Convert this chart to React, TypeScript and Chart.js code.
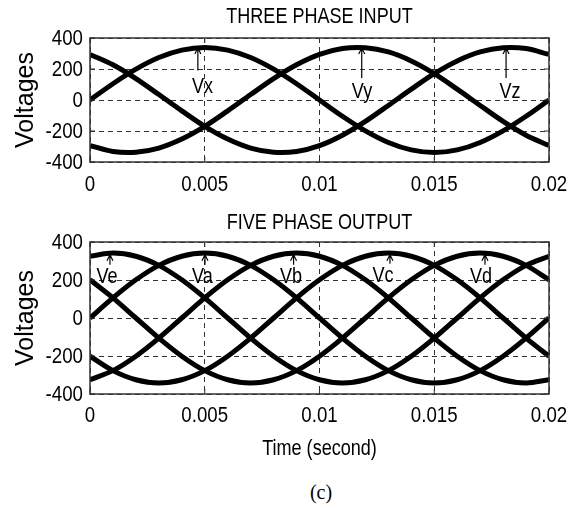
import React, { useEffect, useRef } from 'react';
import { Chart, registerables } from 'chart.js';

Chart.register(...registerables);

// Sample times (s), one cycle at 50 Hz
const TIME = [
  0, 0.001, 0.002, 0.003, 0.004, 0.005, 0.006, 0.007, 0.008, 0.009, 0.01,
  0.011, 0.012, 0.013, 0.014, 0.015, 0.016, 0.017, 0.018, 0.019, 0.02,
];

// Three phase input voltages (V)
const VX = [0, 105, 199, 274, 322, 339, 322, 274, 199, 105, 0, -105, -199, -274, -322, -339, -322, -274, -199, -105, 0];
const VY = [-294, -332, -337, -310, -252, -170, -70, 35, 138, 227, 294, 332, 337, 310, 252, 170, 70, -35, -138, -227, -294];
const VZ = [294, 227, 138, 35, -70, -170, -252, -310, -337, -332, -294, -227, -138, -35, 70, 170, 252, 310, 337, 332, 294];

// Five phase output voltages (V)
const VA = [0, 106, 201, 277, 325, 342, 325, 277, 201, 106, 0, -106, -201, -277, -325, -342, -325, -277, -201, -106, 0];
const VB = [-325, -277, -201, -106, 0, 106, 201, 277, 325, 342, 325, 277, 201, 106, 0, -106, -201, -277, -325, -342, -325];
const VC = [-201, -277, -325, -342, -325, -277, -201, -106, 0, 106, 201, 277, 325, 342, 325, 277, 201, 106, 0, -106, -201];
const VD = [201, 106, 0, -106, -201, -277, -325, -342, -325, -277, -201, -106, 0, 106, 201, 277, 325, 342, 325, 277, 201];
const VE = [325, 342, 325, 277, 201, 106, 0, -106, -201, -277, -325, -342, -325, -277, -201, -106, 0, 106, 201, 277, 325];

// Axis ticks
const X_TICKS = [0, 0.005, 0.01, 0.015, 0.02];
const X_TICK_LABELS = ['0', '0.005', '0.01', '0.015', '0.02'];
const Y_TICKS = [-400, -200, 0, 200, 400];
const Y_TICK_LABELS = ['-400', '-200', '0', '200', '400'];

// Phase tags: name, arrow time, arrow tip / base voltage, label time / voltage
const INPUT_TAG_NAMES = ['Vx', 'Vy', 'Vz'];
const INPUT_TAG_T = [0.0047, 0.01184, 0.01813];
const INPUT_TAG_TIP = [335, 335, 335];
const INPUT_TAG_BASE = [190, 142, 142];
const INPUT_TAG_LABEL_T = [0.0049, 0.01185, 0.0183];
const INPUT_TAG_LABEL_V = [84, 52, 52];

const OUTPUT_TAG_NAMES = ['Ve', 'Va', 'Vb', 'Vc', 'Vd'];
const OUTPUT_TAG_T = [0.00087, 0.00501, 0.00887, 0.01307, 0.01721];
const OUTPUT_TAG_TIP = [333, 333, 333, 333, 333];
const OUTPUT_TAG_BASE = [280, 280, 280, 285, 280];
const OUTPUT_TAG_LABEL_T = [0.00074, 0.0049, 0.00876, 0.01277, 0.01704];
const OUTPUT_TAG_LABEL_V = [218, 218, 218, 224, 218];

const SANS = '"Liberation Sans", Arial, sans-serif';

type Tag = { name: string; t: number; tip: number; base: number; lt: number; lv: number };

function makeTags(names: string[], t: number[], tip: number[], base: number[], lt: number[], lv: number[]): Tag[] {
  return names.map((name, i) => ({ name, t: t[i], tip: tip[i], base: base[i], lt: lt[i], lv: lv[i] }));
}

// Horizontally condensed text, like a narrow Helvetica face
function narrowText(ctx: CanvasRenderingContext2D, text: string, x: number, y: number, align: CanvasTextAlign, squeeze = 0.82, size = 22) {
  ctx.save();
  ctx.translate(x, y);
  ctx.scale(squeeze, 1);
  ctx.font = `${size}px ${SANS}`;
  ctx.fillStyle = '#000';
  ctx.textAlign = align;
  ctx.textBaseline = 'middle';
  ctx.fillText(text, 0, 0);
  ctx.restore();
}

type PanelSpec = {
  series: number[][];
  title: string;
  titleGap: number;
  areaTop: number;
  xAxisHeight: number;
  xLabelGap: number;
  xTitle: string | null;
  tags: Tag[];
};

// Draws the axes box, inward tick marks, tick labels, titles and phase tags
function makeFramePlugin(spec: PanelSpec) {
  return {
    id: 'frameAndTags',
    afterDatasetsDraw(chart: any) {
      const { ctx, chartArea: a, scales } = chart;
      const x = scales.x;
      const y = scales.y;
      ctx.save();
      ctx.setLineDash([]);

      // tags
      ctx.strokeStyle = '#000';
      ctx.lineWidth = 1.2;
      for (const tag of spec.tags) {
        const px = x.getPixelForValue(tag.t);
        const pTip = y.getPixelForValue(tag.tip);
        const pBase = y.getPixelForValue(tag.base);
        ctx.beginPath();
        ctx.moveTo(px, pBase);
        ctx.lineTo(px, pTip);
        ctx.moveTo(px - 3, pTip + 6);
        ctx.lineTo(px, pTip);
        ctx.lineTo(px + 3, pTip + 6);
        ctx.stroke();
        narrowText(ctx, tag.name, x.getPixelForValue(tag.lt), y.getPixelForValue(tag.lv), 'center');
      }

      // box
      ctx.strokeStyle = '#333';
      ctx.lineWidth = 1.5;
      ctx.strokeRect(a.left, a.top, a.right - a.left, a.bottom - a.top);

      // inward ticks on all four sides
      ctx.lineWidth = 1;
      ctx.beginPath();
      for (const v of X_TICKS) {
        const px = x.getPixelForValue(v);
        ctx.moveTo(px, a.bottom);
        ctx.lineTo(px, a.bottom - 5);
        ctx.moveTo(px, a.top);
        ctx.lineTo(px, a.top + 5);
      }
      for (const v of Y_TICKS) {
        const py = y.getPixelForValue(v);
        ctx.moveTo(a.left, py);
        ctx.lineTo(a.left + 5, py);
        ctx.moveTo(a.right, py);
        ctx.lineTo(a.right - 5, py);
      }
      ctx.stroke();

      // tick labels
      X_TICKS.forEach((v, i) => {
        narrowText(ctx, X_TICK_LABELS[i], x.getPixelForValue(v), a.bottom + spec.xLabelGap, 'center', 0.85);
      });
      Y_TICKS.forEach((v, i) => {
        narrowText(ctx, Y_TICK_LABELS[i], a.left - 7, y.getPixelForValue(v) + 1, 'right', 0.85);
      });

      // panel title and x-axis title
      const cx = (a.left + a.right) / 2;
      narrowText(ctx, spec.title, cx, a.top - spec.titleGap, 'center');
      if (spec.xTitle) narrowText(ctx, spec.xTitle, cx, a.bottom + 55, 'center');

      ctx.restore();
    },
  };
}

function buildConfig(spec: PanelSpec): any {
  return {
    type: 'line',
    data: {
      datasets: spec.series.map((s) => ({
        data: TIME.map((t, i) => ({ x: t, y: s[i] })),
        borderColor: '#000',
        borderWidth: 5,
        pointRadius: 0,
        tension: 0.33,
        fill: false,
      })),
    },
    options: {
      responsive: false,
      maintainAspectRatio: false,
      animation: false,
      events: [],
      layout: { padding: { left: 0, right: 32, top: spec.areaTop, bottom: 0 } },
      plugins: {
        legend: { display: false },
        tooltip: { enabled: false },
        title: { display: false },
      },
      scales: {
        x: {
          type: 'linear',
          min: 0,
          max: 0.02,
          afterBuildTicks: (scale: any) => {
            scale.ticks = X_TICKS.map((value) => ({ value }));
          },
          afterFit: (scale: any) => {
            scale.height = spec.xAxisHeight;
          },
          ticks: { display: false },
          grid: { color: '#333', lineWidth: 1, drawTicks: false },
          border: { display: false, dash: [5, 4] },
        },
        y: {
          type: 'linear',
          min: -400,
          max: 400,
          afterBuildTicks: (scale: any) => {
            scale.ticks = Y_TICKS.map((value) => ({ value }));
          },
          afterFit: (scale: any) => {
            scale.width = 90;
          },
          ticks: { display: false },
          grid: { color: '#333', lineWidth: 1, drawTicks: false },
          border: { display: false, dash: [5, 4] },
          title: {
            display: true,
            text: 'Voltages',
            color: '#000',
            font: { family: SANS, size: 25, lineHeight: 1.2 },
            padding: { top: 11, bottom: 0 },
          },
        },
      },
    },
    plugins: [makeFramePlugin(spec)],
  };
}

function Panel({ spec, top, height }: { spec: PanelSpec; top: number; height: number }) {
  const ref = useRef<HTMLCanvasElement | null>(null);
  useEffect(() => {
    if (!ref.current) return;
    const chart = new Chart(ref.current, buildConfig(spec));
    return () => chart.destroy();
  }, [spec]);
  return (
    <canvas
      ref={ref}
      width={581}
      height={height}
      style={{ position: 'absolute', left: 0, top, width: 581, height }}
    />
  );
}

const INPUT_PANEL: PanelSpec = {
  series: [VX, VY, VZ],
  title: 'THREE PHASE INPUT',
  titleGap: 21.5,
  areaTop: 38,
  xAxisHeight: 38,
  xLabelGap: 22.5,
  xTitle: null,
  tags: makeTags(INPUT_TAG_NAMES, INPUT_TAG_T, INPUT_TAG_TIP, INPUT_TAG_BASE, INPUT_TAG_LABEL_T, INPUT_TAG_LABEL_V),
};

const OUTPUT_PANEL: PanelSpec = {
  series: [VA, VB, VC, VD, VE],
  title: 'FIVE PHASE OUTPUT',
  titleGap: 19.5,
  areaTop: 42,
  xAxisHeight: 76,
  xLabelGap: 22,
  xTitle: 'Time (second)',
  tags: makeTags(OUTPUT_TAG_NAMES, OUTPUT_TAG_T, OUTPUT_TAG_TIP, OUTPUT_TAG_BASE, OUTPUT_TAG_LABEL_T, OUTPUT_TAG_LABEL_V),
};

export default function App() {
  return (
    <div style={{ position: 'absolute', left: 0, top: 0, width: 581, height: 508, background: '#fff', overflow: 'hidden' }}>
      <Panel spec={INPUT_PANEL} top={0} height={200} />
      <Panel spec={OUTPUT_PANEL} top={200} height={270} />
      <div
        style={{
          position: 'absolute',
          left: 0,
          width: 642,
          top: 480,
          textAlign: 'center',
          fontFamily: '"Liberation Serif", "Times New Roman", serif',
          fontSize: 20,
          lineHeight: '24px',
          color: '#000',
        }}
      >
        (c)
      </div>
    </div>
  );
}
